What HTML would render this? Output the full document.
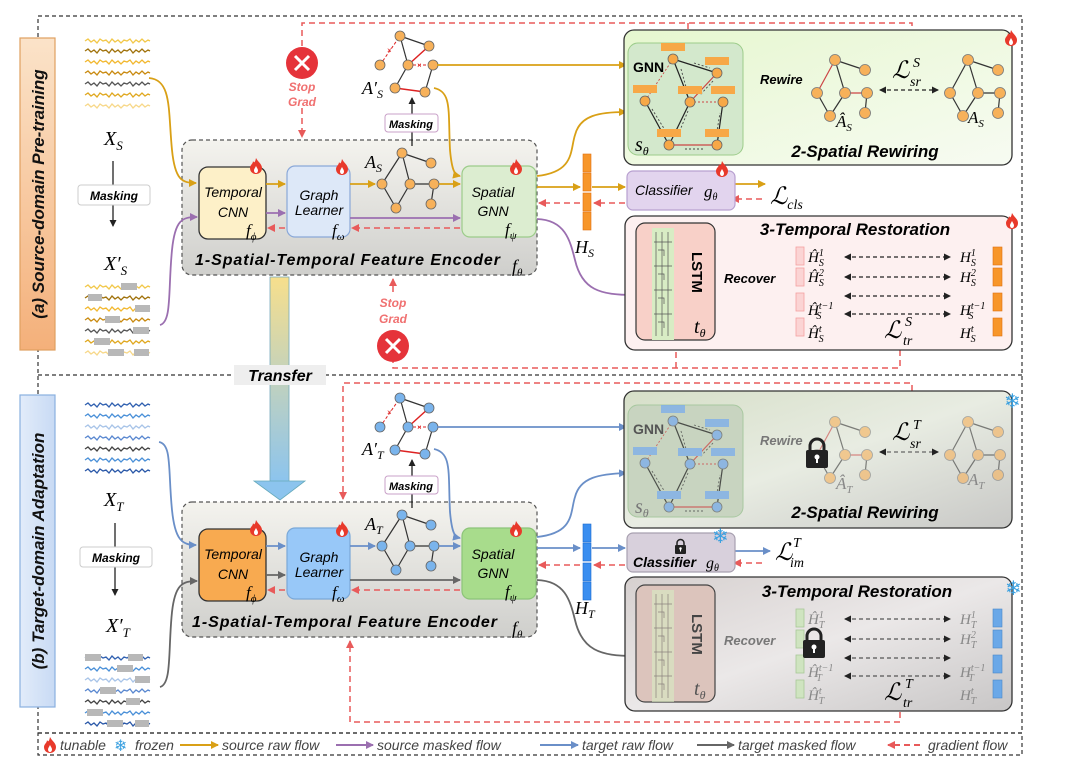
<!DOCTYPE html>
<html><head><meta charset="utf-8"><style>
html,body{margin:0;padding:0;background:#fff;}
svg{display:block;}
.t{font-family:"Liberation Sans",sans-serif;}
.m{font-family:"Liberation Serif",serif;font-style:italic;}
</style></head><body>
<svg width="1080" height="773" viewBox="0 0 1080 773" xmlns="http://www.w3.org/2000/svg">
<defs>
<marker id="aG" markerWidth="8" markerHeight="8" refX="7" refY="4" orient="auto" markerUnits="userSpaceOnUse"><path d="M0,0 L8,4 L0,8 Z" fill="#d9a016"/></marker>
<marker id="aP" markerWidth="8" markerHeight="8" refX="7" refY="4" orient="auto" markerUnits="userSpaceOnUse"><path d="M0,0 L8,4 L0,8 Z" fill="#9b6fb0"/></marker>
<marker id="aB" markerWidth="8" markerHeight="8" refX="7" refY="4" orient="auto" markerUnits="userSpaceOnUse"><path d="M0,0 L8,4 L0,8 Z" fill="#6a8fc8"/></marker>
<marker id="aD" markerWidth="8" markerHeight="8" refX="7" refY="4" orient="auto" markerUnits="userSpaceOnUse"><path d="M0,0 L8,4 L0,8 Z" fill="#666"/></marker>
<marker id="aR" markerWidth="8" markerHeight="8" refX="7" refY="4" orient="auto" markerUnits="userSpaceOnUse"><path d="M0,0 L8,4 L0,8 Z" fill="#e85a5a"/></marker>
<marker id="aK" markerWidth="7" markerHeight="7" refX="6" refY="3.5" orient="auto" markerUnits="userSpaceOnUse"><path d="M0,0 L7,3.5 L0,7 Z" fill="#222"/></marker>
<marker id="aKs" markerWidth="7" markerHeight="7" refX="1" refY="3.5" orient="auto" markerUnits="userSpaceOnUse"><path d="M7,0 L0,3.5 L7,7 Z" fill="#222"/></marker>
<linearGradient id="encG" x1="0" y1="0" x2="0" y2="1"><stop offset="0" stop-color="#f4f3ee"/><stop offset="1" stop-color="#cfcfcc"/></linearGradient>
<linearGradient id="srG" x1="0" y1="0" x2="1" y2="1"><stop offset="0" stop-color="#e6f7cf"/><stop offset="1" stop-color="#f7fbf2"/></linearGradient>
<linearGradient id="srG2" x1="0" y1="0" x2="1" y2="1"><stop offset="0" stop-color="#d6dfc8"/><stop offset="0.5" stop-color="#e8ece2"/><stop offset="1" stop-color="#c8c8c6"/></linearGradient>
<linearGradient id="trG2" x1="0" y1="0" x2="1" y2="1"><stop offset="0" stop-color="#d6d0cf"/><stop offset="0.5" stop-color="#ebe8e8"/><stop offset="1" stop-color="#c8c6c6"/></linearGradient>
<linearGradient id="aLab" x1="0" y1="0" x2="0" y2="1"><stop offset="0" stop-color="#fbe3c9"/><stop offset="1" stop-color="#f4b07a"/></linearGradient>
<linearGradient id="bLab" x1="0" y1="0" x2="1" y2="0"><stop offset="0" stop-color="#e2ecfa"/><stop offset="1" stop-color="#c8daf4"/></linearGradient>
<linearGradient id="trans" x1="0" y1="0" x2="0" y2="1"><stop offset="0" stop-color="#f7df8c"/><stop offset="1" stop-color="#8cc4ee"/></linearGradient>
<symbol id="sig" overflow="visible"><polyline fill="none" stroke-width="1.3" points="0,0 3,-2 6,1 9,-1 12,2 15,-2 18,0 21,-1 24,2 27,-2 30,1 33,-1 36,2 39,-1 42,0 45,-2 48,2 51,-1 54,1 57,-2 60,1 63,-1 65,0"/></symbol>
<symbol id="fire" overflow="visible"><path d="M6,0 C8,4 12,6 12,10 C12,14 9,16 6,16 C3,16 0,14 0,10 C0,7 3,6 3,3 C4,5 5,5 6,0 Z" fill="#e8392b"/><path d="M6,8 C7,10 8,11 8,12.5 C8,14 7,15 6,15 C5,15 4,14 4,12.5 C4,11 5,10 6,8Z" fill="#fff"/></symbol>
<symbol id="lock" overflow="visible"><path d="M4,10 V6 A7,7 0 0 1 18,6 V10" fill="none" stroke="#222" stroke-width="3"/><rect x="0" y="10" width="22" height="18" rx="2" fill="#222"/><circle cx="11" cy="17" r="2.5" fill="#fff"/><rect x="10" y="18" width="2" height="5" fill="#fff"/></symbol>
<symbol id="gA" overflow="visible"><g stroke="#333" stroke-width="1.2"><line x1="24" y1="3" x2="53" y2="13"/><line x1="24" y1="3" x2="4" y2="34"/><line x1="24" y1="3" x2="32" y2="34"/><line x1="4" y1="34" x2="18" y2="58"/><line x1="32" y1="34" x2="18" y2="58"/><line x1="32" y1="34" x2="56" y2="34"/><line x1="56" y1="34" x2="53" y2="54"/></g><g stroke="#666" stroke-width="0.8"><circle cx="24" cy="3" r="5"/><circle cx="53" cy="13" r="5"/><circle cx="4" cy="34" r="5"/><circle cx="32" cy="34" r="5"/><circle cx="56" cy="34" r="5"/><circle cx="18" cy="58" r="5"/><circle cx="53" cy="54" r="5"/></g></symbol>
<symbol id="gM" overflow="visible"><g stroke="#333" stroke-width="1.2"><line x1="22" y1="3" x2="51" y2="13"/><line x1="22" y1="3" x2="30" y2="32"/><line x1="30" y1="32" x2="17" y2="55"/><line x1="55" y1="32" x2="47" y2="59"/></g><g stroke="#d22" stroke-width="1.5"><line x1="51" y1="13" x2="30" y2="32"/><line x1="17" y1="55" x2="47" y2="59"/></g><g stroke="#d22" stroke-width="1" stroke-dasharray="3,2"><line x1="2" y1="32" x2="22" y2="3"/><line x1="30" y1="32" x2="55" y2="32"/></g><text x="9" y="20" font-size="8" fill="#d22" class="t">×</text><text x="39" y="35" font-size="8" fill="#d22" class="t">×</text><g stroke="#666" stroke-width="0.8"><circle cx="22" cy="3" r="5"/><circle cx="51" cy="13" r="5"/><circle cx="2" cy="32" r="5"/><circle cx="30" cy="32" r="5"/><circle cx="55" cy="32" r="5"/><circle cx="17" cy="55" r="5"/><circle cx="47" cy="59" r="5"/></g></symbol>
<symbol id="gR" overflow="visible"><g stroke="#333" stroke-width="1.2"><line x1="20" y1="2" x2="50" y2="12"/><line x1="20" y1="2" x2="30" y2="35"/><line x1="2" y1="35" x2="15" y2="58"/><line x1="30" y1="35" x2="15" y2="58"/><line x1="52" y1="35" x2="50" y2="55"/></g><g stroke="#c44" stroke-width="1.2"><line x1="20" y1="2" x2="2" y2="35"/><line x1="30" y1="35" x2="52" y2="35"/></g><g stroke="#777" stroke-width="0.8" fill="#f7b15a"><circle cx="20" cy="2" r="5.5"/><circle cx="50" cy="12" r="5.5"/><circle cx="2" cy="35" r="5.5"/><circle cx="30" cy="35" r="5.5"/><circle cx="52" cy="35" r="5.5"/><circle cx="15" cy="58" r="5.5"/><circle cx="50" cy="55" r="5.5"/></g></symbol>
<symbol id="gT" overflow="visible"><g stroke="#333" stroke-width="1.2"><line x1="20" y1="2" x2="50" y2="12"/><line x1="20" y1="2" x2="30" y2="35"/><line x1="2" y1="35" x2="15" y2="58"/><line x1="30" y1="35" x2="15" y2="58"/><line x1="52" y1="35" x2="50" y2="55"/><line x1="20" y1="2" x2="2" y2="35"/><line x1="30" y1="35" x2="52" y2="35"/></g><g stroke="#777" stroke-width="0.8" fill="#f7b15a"><circle cx="20" cy="2" r="5.5"/><circle cx="50" cy="12" r="5.5"/><circle cx="2" cy="35" r="5.5"/><circle cx="30" cy="35" r="5.5"/><circle cx="52" cy="35" r="5.5"/><circle cx="15" cy="58" r="5.5"/><circle cx="50" cy="55" r="5.5"/></g></symbol>
<symbol id="gnn" overflow="visible">
<g stroke="#222" stroke-width="1.2"><line x1="45" y1="16" x2="89" y2="30"/><line x1="45" y1="16" x2="62" y2="59"/><line x1="17" y1="58" x2="41" y2="102"/><line x1="62" y1="59" x2="41" y2="102"/><line x1="95" y1="59" x2="89" y2="102"/></g>
<g stroke="#c44" stroke-width="1.2"><line x1="89" y1="30" x2="62" y2="59"/><line x1="41" y1="102" x2="89" y2="102"/></g>
<g stroke="#c44" stroke-width="0.9" stroke-dasharray="2,2"><line x1="45" y1="16" x2="17" y2="58"/><line x1="62" y1="59" x2="95" y2="59"/></g>
<g stroke="#444" stroke-width="0.9" stroke-dasharray="2,2" fill="none"><line x1="53" y1="26" x2="58" y2="44"/><line x1="85" y1="38" x2="72" y2="52"/><line x1="24" y1="66" x2="40" y2="92"/><line x1="60" y1="68" x2="50" y2="92"/><line x1="88" y1="94" x2="92" y2="70"/><line x1="75" y1="106" x2="55" y2="106"/><line x1="66" y1="20" x2="82" y2="25"/></g>
<g fill="currentColor"><rect x="33" y="0" width="24" height="8"/><rect x="77" y="14" width="24" height="8"/><rect x="5" y="42" width="24" height="8"/><rect x="50" y="43" width="24" height="8"/><rect x="83" y="43" width="24" height="8"/><rect x="29" y="86" width="24" height="8"/><rect x="77" y="86" width="24" height="8"/></g>
<g fill="currentColor" stroke="#666" stroke-width="0.8"><circle cx="45" cy="16" r="5"/><circle cx="89" cy="30" r="5"/><circle cx="17" cy="58" r="5"/><circle cx="62" cy="59" r="5"/><circle cx="95" cy="59" r="5"/><circle cx="41" cy="102" r="5"/><circle cx="89" cy="102" r="5"/></g>
</symbol>
<symbol id="lstm" overflow="visible"><rect x="0" y="0" width="22" height="112" fill="#d8ecc4"/><g stroke="#555" stroke-width="0.7" fill="none"><path d="M4,4 V108 M10,4 V108 M16,4 V108 M2,14 H20 M2,38 H20 M2,62 H20 M2,86 H20 M6,22 h6 v6 M6,46 h6 v6 M6,70 h6 v6 M6,94 h6 v6"/></g></symbol>
</defs>

<g fill="none" stroke="#333" stroke-width="1.2" stroke-dasharray="4,3">
<rect x="38" y="16" width="984" height="717"/>
<line x1="38" y1="375" x2="1022" y2="375"/>
<rect x="38" y="733" width="984" height="22"/>
</g>

<rect x="20" y="38" width="35" height="312" fill="url(#aLab)" stroke="#e0a060" stroke-width="1.2"/>
<text class="t" transform="translate(44,194) rotate(-90)" text-anchor="middle" font-size="17" font-weight="bold" font-style="italic" fill="#111">(a) Source-domain Pre-training</text>
<rect x="20" y="395" width="35" height="312" fill="url(#bLab)" stroke="#8ab0e0" stroke-width="1.2"/>
<text class="t" transform="translate(44,551) rotate(-90)" text-anchor="middle" font-size="17" font-weight="bold" font-style="italic" fill="#111">(b) Target-domain Adaptation</text>

<!-- UPPER -->
<g>
<use href="#sig" x="85" y="41" stroke="#f2c84a"/>
<use href="#sig" x="85" y="51" stroke="#a0720c"/>
<use href="#sig" x="85" y="62" stroke="#f2b830"/>
<use href="#sig" x="85" y="73" stroke="#c98a10"/>
<use href="#sig" x="85" y="84" stroke="#555"/>
<use href="#sig" x="85" y="95" stroke="#e0a820"/>
<use href="#sig" x="85" y="106" stroke="#f7d88a"/>
<text class="m" x="104" y="145" font-size="20">X<tspan font-size="13" dy="5">S</tspan></text>
<line x1="113" y1="161" x2="113" y2="226" stroke="#111" stroke-width="1.2" marker-end="url(#aK)"/>
<rect x="78" y="185" width="72" height="20" rx="3" fill="#fff" stroke="#ccc"/>
<text class="t" x="114" y="200" text-anchor="middle" font-size="12" font-weight="bold" font-style="italic">Masking</text>
<text class="m" x="104" y="270" font-size="20">X′<tspan font-size="13" dy="5">S</tspan></text>
<use href="#sig" x="85" y="287" stroke="#f2c84a"/>
<use href="#sig" x="85" y="298" stroke="#a0720c"/>
<use href="#sig" x="85" y="309" stroke="#f2b830"/>
<use href="#sig" x="85" y="320" stroke="#c98a10"/>
<use href="#sig" x="85" y="331" stroke="#555"/>
<use href="#sig" x="85" y="342" stroke="#e0a820"/>
<use href="#sig" x="85" y="353" stroke="#f7d88a"/>
<g fill="#b8b8b8"><rect x="121" y="283" width="16" height="7"/><rect x="88" y="294" width="14" height="7"/><rect x="135" y="305" width="15" height="7"/><rect x="105" y="316" width="15" height="7"/><rect x="133" y="327" width="16" height="7"/><rect x="94" y="338" width="16" height="7"/><rect x="108" y="349" width="16" height="7"/><rect x="134" y="349" width="15" height="7"/></g>

<rect x="182" y="140" width="355" height="135" rx="10" fill="url(#encG)" stroke="#555" stroke-width="1.2" stroke-dasharray="4,3"/>
<rect x="199" y="167" width="67" height="72" rx="9" fill="#fdf0c8" stroke="#333" stroke-width="1.3"/>
<text class="t" x="233" y="197" text-anchor="middle" font-size="14" font-style="italic">Temporal</text>
<text class="t" x="233" y="217" text-anchor="middle" font-size="14" font-style="italic">CNN</text>
<text class="m" x="246" y="236" font-size="17">f<tspan font-size="11" dy="4">ϕ</tspan></text>
<use href="#fire" x="250" y="158"/>
<rect x="287" y="166" width="63" height="71" rx="8" fill="#dde8f8" stroke="#8aa8d8" stroke-width="1.2"/>
<text class="t" x="319" y="200" text-anchor="middle" font-size="14" font-style="italic">Graph</text>
<text class="t" x="319" y="215" text-anchor="middle" font-size="14" font-style="italic">Learner</text>
<text class="m" x="332" y="236" font-size="17">f<tspan font-size="11" dy="4">ω</tspan></text>
<use href="#fire" x="336" y="159"/>
<rect x="462" y="166" width="74" height="71" rx="8" fill="#dcedd0" stroke="#9ccc8a" stroke-width="1.2"/>
<text class="t" x="493" y="197" text-anchor="middle" font-size="14" font-style="italic">Spatial</text>
<text class="t" x="493" y="216" text-anchor="middle" font-size="14" font-style="italic">GNN</text>
<text class="m" x="505" y="235" font-size="17">f<tspan font-size="11" dy="4">ψ</tspan></text>
<use href="#fire" x="510" y="159"/>
<text class="t" x="195" y="265" font-size="16" font-weight="bold" font-style="italic" textLength="305">1-Spatial-Temporal Feature Encoder</text>
<text class="m" x="512" y="272" font-size="18">f<tspan font-size="11" dy="4">θ</tspan></text>
<text class="m" x="365" y="168" font-size="18">A<tspan font-size="12" dy="4">S</tspan></text>
<use href="#gA" x="378" y="150" fill="#f7b15a"/>
<line x1="412" y1="146" x2="412" y2="98" stroke="#111" stroke-width="1.2" marker-end="url(#aK)"/>
<rect x="385" y="114" width="53" height="18" rx="3" fill="#fff" stroke="#c9a0c8"/>
<text class="t" x="411" y="128" text-anchor="middle" font-size="11" font-weight="bold" font-style="italic">Masking</text>
<text class="m" x="362" y="94" font-size="18">A′<tspan font-size="12" dy="4">S</tspan></text>
<use href="#gM" x="378" y="33" fill="#f7b15a"/>
<g fill="none" stroke-width="1.8">
<path d="M149,78 C172,80 168,110 172,150 C175,180 182,183 196,183" stroke="#d9a016" marker-end="url(#aG)"/>
<path d="M160,325 C172,322 168,290 172,250 C175,220 182,217 197,217" stroke="#9b6fb0" marker-end="url(#aP)"/>
<line x1="266" y1="184" x2="285" y2="184" stroke="#d9a016" marker-end="url(#aG)"/>
<line x1="266" y1="213" x2="285" y2="213" stroke="#9b6fb0" marker-end="url(#aP)"/>
<line x1="350" y1="184" x2="375" y2="184" stroke="#d9a016" marker-end="url(#aG)"/>
<line x1="439" y1="184" x2="460" y2="184" stroke="#d9a016" marker-end="url(#aG)"/>
<line x1="350" y1="218" x2="460" y2="218" stroke="#9b6fb0" marker-end="url(#aP)"/>
<path d="M434,88 C452,92 448,110 450,150 C452,172 455,175 460,176" stroke="#d9a016" marker-end="url(#aG)"/>
<line x1="437" y1="65" x2="626" y2="65" stroke="#d9a016" marker-end="url(#aG)"/>
<path d="M537,176 C575,172 570,150 575,135 C580,115 600,112 626,112" stroke="#d9a016" marker-end="url(#aG)"/>
<line x1="537" y1="187" x2="580" y2="187" stroke="#d9a016" marker-end="url(#aG)"/>
<line x1="592" y1="187" x2="625" y2="187" stroke="#d9a016" marker-end="url(#aG)"/>
<line x1="730" y1="184" x2="765" y2="184" stroke="#d9a016" marker-end="url(#aG)"/>
<path d="M537,219 C565,220 570,240 575,260 C582,290 600,295 634,295" stroke="#9b6fb0" marker-end="url(#aP)"/>
<line x1="745" y1="93" x2="806" y2="93" stroke="#d9a016" marker-end="url(#aG)"/>
<line x1="716" y1="290" x2="790" y2="290" stroke="#9b6fb0" marker-end="url(#aP)"/>
</g>
<g fill="none" stroke="#e85a5a" stroke-width="1.5" stroke-dasharray="6,4">
<line x1="285" y1="228" x2="268" y2="228" marker-end="url(#aR)"/>
<line x1="460" y1="228" x2="352" y2="228" marker-end="url(#aR)"/>
<line x1="625" y1="203" x2="594" y2="203" marker-end="url(#aR)"/>
<line x1="580" y1="203" x2="539" y2="203" marker-end="url(#aR)"/>
<line x1="762" y1="199" x2="732" y2="199" marker-end="url(#aR)"/>
<polyline points="302,46 302,23 912,23 912,30"/>
<line x1="302" y1="108" x2="302" y2="137" marker-end="url(#aR)"/>
<line x1="688" y1="23" x2="688" y2="44" marker-end="url(#aR)"/>
<polyline points="900,350 900,368 393,368 393,362"/>
<line x1="393" y1="292" x2="393" y2="279" marker-end="url(#aR)"/>
<line x1="676" y1="368" x2="676" y2="342" marker-end="url(#aR)"/>
</g>
<circle cx="302" cy="63" r="16" fill="#e5333a"/>
<path d="M295,56 L309,70 M309,56 L295,70" stroke="#fff" stroke-width="3"/>
<text class="t" x="302" y="91" text-anchor="middle" font-size="12" font-weight="bold" font-style="italic" fill="#f07070">Stop</text>
<text class="t" x="302" y="106" text-anchor="middle" font-size="12" font-weight="bold" font-style="italic" fill="#f07070">Grad</text>
<circle cx="393" cy="346" r="16" fill="#e5333a"/>
<path d="M386,339 L400,353 M400,339 L386,353" stroke="#fff" stroke-width="3"/>
<text class="t" x="393" y="307" text-anchor="middle" font-size="12" font-weight="bold" font-style="italic" fill="#f07070">Stop</text>
<text class="t" x="393" y="323" text-anchor="middle" font-size="12" font-weight="bold" font-style="italic" fill="#f07070">Grad</text>
<g fill="#f7962a" stroke="#e07010" stroke-width="0.6"><rect x="583" y="154" width="8" height="18"/><rect x="583" y="173" width="8" height="18"/><rect x="583" y="193" width="8" height="18"/><rect x="583" y="212" width="8" height="18"/></g>
<text class="m" x="575" y="253" font-size="18">H<tspan font-size="12" dy="4">S</tspan></text>
<rect x="624" y="30" width="388" height="135" rx="10" fill="url(#srG)" stroke="#333" stroke-width="1.3"/>
<use href="#fire" x="1005" y="30"/>
<rect x="628" y="43" width="115" height="112" rx="10" fill="#d3e8cc" stroke="#9ccc8a" stroke-width="1"/>
<use href="#gnn" x="628" y="43" color="#f7a847"/>
<text class="t" x="633" y="72" font-size="14" font-weight="bold">GNN</text>
<text class="m" x="635" y="151" font-size="20">s<tspan font-size="12" dy="4">θ</tspan></text>
<text class="t" x="760" y="84" font-size="13" font-weight="bold" font-style="italic">Rewire</text>
<use href="#gR" x="815" y="58"/>
<text class="m" x="836" y="127" font-size="17">Â<tspan font-size="11" dy="4">S</tspan></text>
<line x1="880" y1="90" x2="938" y2="90" stroke="#222" stroke-width="1.3" stroke-dasharray="4,3" marker-start="url(#aKs)" marker-end="url(#aK)"/>
<text class="m" x="892" y="78" font-size="24">ℒ</text><text class="m" x="913" y="67" font-size="14">S</text><text class="m" x="910" y="86" font-size="14">sr</text>
<use href="#gT" x="948" y="58"/>
<text class="m" x="968" y="123" font-size="17">A<tspan font-size="11" dy="4">S</tspan></text>
<text class="t" x="865" y="157" text-anchor="middle" font-size="17" font-weight="bold" font-style="italic">2-Spatial Rewiring</text>
<rect x="627" y="171" width="108" height="39" rx="6" fill="#e2d4ee" stroke="#b8a0d0" stroke-width="1.2"/>
<text class="t" x="635" y="195" font-size="14" font-style="italic">Classifier</text>
<text class="m" x="704" y="197" font-size="17">g<tspan font-size="10" dy="3">θ</tspan></text>
<use href="#fire" x="716" y="161"/>
<text class="m" x="770" y="204" font-size="24">ℒ<tspan font-size="14" dy="5">cls</tspan></text>
<rect x="625" y="216" width="387" height="134" rx="10" fill="#fdf0f0" stroke="#333" stroke-width="1.3"/>
<use href="#fire" x="1006" y="213"/>
<rect x="636" y="223" width="79" height="117" rx="9" fill="#f8d0c8" stroke="#333" stroke-width="1.2"/>
<use href="#lstm" x="652" y="228"/>
<text class="t" transform="translate(692,252) rotate(90)" font-size="15" font-weight="bold">LSTM</text>
<text class="m" x="694" y="333" font-size="20">t<tspan font-size="12" dy="4">θ</tspan></text>
<text class="t" x="724" y="283" font-size="13" font-weight="bold" font-style="italic">Recover</text>
<g fill="#fbd4d4" stroke="#f4a0a0" stroke-width="0.8"><rect x="796" y="247" width="8" height="18"/><rect x="796" y="268" width="8" height="18"/><rect x="796" y="293" width="8" height="18"/><rect x="796" y="318" width="8" height="18"/></g>
<g fill="#f7962a" stroke="#e07010" stroke-width="0.6"><rect x="993" y="247" width="9" height="18"/><rect x="993" y="268" width="9" height="18"/><rect x="993" y="293" width="9" height="18"/><rect x="993" y="318" width="9" height="18"/></g>
<g class="m" font-size="15"><text x="808" y="262">Ĥ<tspan font-size="10" dy="-6">1</tspan><tspan font-size="10" dx="-5" dy="10">S</tspan></text>
<text x="808" y="282">Ĥ<tspan font-size="10" dy="-6">2</tspan><tspan font-size="10" dx="-5" dy="10">S</tspan></text>
<text x="808" y="315">Ĥ<tspan font-size="10" dy="-6">t−1</tspan><tspan font-size="10" dx="-17" dy="10">S</tspan></text>
<text x="808" y="338">Ĥ<tspan font-size="10" dy="-6">t</tspan><tspan font-size="10" dx="-3" dy="10">S</tspan></text>
<text x="960" y="262">H<tspan font-size="10" dy="-6">1</tspan><tspan font-size="10" dx="-5" dy="10">S</tspan></text>
<text x="960" y="282">H<tspan font-size="10" dy="-6">2</tspan><tspan font-size="10" dx="-5" dy="10">S</tspan></text>
<text x="960" y="315">H<tspan font-size="10" dy="-6">t−1</tspan><tspan font-size="10" dx="-17" dy="10">S</tspan></text>
<text x="960" y="338">H<tspan font-size="10" dy="-6">t</tspan><tspan font-size="10" dx="-3" dy="10">S</tspan></text></g>
<g stroke="#222" stroke-width="1.3" stroke-dasharray="4,3"><line x1="845" y1="257" x2="950" y2="257" marker-start="url(#aKs)" marker-end="url(#aK)"/><line x1="845" y1="277" x2="950" y2="277" marker-start="url(#aKs)" marker-end="url(#aK)"/><line x1="845" y1="296" x2="950" y2="296" marker-start="url(#aKs)" marker-end="url(#aK)"/><line x1="845" y1="314" x2="950" y2="314" marker-start="url(#aKs)" marker-end="url(#aK)"/></g>
<text class="m" x="884" y="338" font-size="24">ℒ</text><text class="m" x="905" y="326" font-size="14">S</text><text class="m" x="903" y="345" font-size="14">tr</text>
</g>

<rect x="270" y="277" width="19" height="205" fill="url(#trans)" stroke="#7ab" stroke-width="0.8"/>
<path d="M254,481 L305,481 L280,500 Z" fill="#8cc4ee" stroke="#6ab" stroke-width="0.8"/>
<rect x="234" y="365" width="92" height="20" fill="#eee"/>
<text class="t" x="280" y="381" text-anchor="middle" font-size="16" font-weight="bold" font-style="italic">Transfer</text>

<!-- LOWER -->
<g>
<use href="#sig" x="85" y="405" stroke="#3060b0"/>
<use href="#sig" x="85" y="416" stroke="#4a90d8"/>
<use href="#sig" x="85" y="427" stroke="#a8c4e8"/>
<use href="#sig" x="85" y="438" stroke="#5a88d0"/>
<use href="#sig" x="85" y="449" stroke="#444"/>
<use href="#sig" x="85" y="460" stroke="#4a90d8"/>
<use href="#sig" x="85" y="471" stroke="#2a58a8"/>
<text class="m" x="104" y="506" font-size="20">X<tspan font-size="13" dy="5">T</tspan></text>
<line x1="115" y1="523" x2="115" y2="595" stroke="#111" stroke-width="1.2" marker-end="url(#aK)"/>
<rect x="80" y="547" width="72" height="20" rx="3" fill="#fff" stroke="#ccc"/>
<text class="t" x="116" y="562" text-anchor="middle" font-size="12" font-weight="bold" font-style="italic">Masking</text>
<text class="m" x="106" y="632" font-size="20">X′<tspan font-size="13" dy="5">T</tspan></text>
<use href="#sig" x="85" y="658" stroke="#3060b0"/>
<use href="#sig" x="85" y="669" stroke="#4a90d8"/>
<use href="#sig" x="85" y="680" stroke="#a8c4e8"/>
<use href="#sig" x="85" y="691" stroke="#5a88d0"/>
<use href="#sig" x="85" y="702" stroke="#444"/>
<use href="#sig" x="85" y="713" stroke="#4a90d8"/>
<use href="#sig" x="85" y="724" stroke="#2a58a8"/>
<g fill="#b8b8b8"><rect x="85" y="654" width="16" height="7"/><rect x="128" y="654" width="15" height="7"/><rect x="117" y="665" width="16" height="7"/><rect x="135" y="676" width="15" height="7"/><rect x="100" y="687" width="16" height="7"/><rect x="126" y="698" width="14" height="7"/><rect x="87" y="709" width="16" height="7"/><rect x="107" y="720" width="16" height="7"/><rect x="135" y="720" width="14" height="7"/></g>

<rect x="182" y="502" width="355" height="135" rx="10" fill="url(#encG)" stroke="#555" stroke-width="1.2" stroke-dasharray="4,3"/>
<rect x="199" y="529" width="67" height="72" rx="9" fill="#f8aa50" stroke="#333" stroke-width="1.3"/>
<text class="t" x="233" y="559" text-anchor="middle" font-size="14" font-style="italic">Temporal</text>
<text class="t" x="233" y="579" text-anchor="middle" font-size="14" font-style="italic">CNN</text>
<text class="m" x="246" y="598" font-size="17">f<tspan font-size="11" dy="4">ϕ</tspan></text>
<use href="#fire" x="250" y="520"/>
<rect x="287" y="528" width="63" height="71" rx="8" fill="#98c8f8" stroke="#7aa8d8" stroke-width="1.2"/>
<text class="t" x="319" y="562" text-anchor="middle" font-size="14" font-style="italic">Graph</text>
<text class="t" x="319" y="577" text-anchor="middle" font-size="14" font-style="italic">Learner</text>
<text class="m" x="332" y="598" font-size="17">f<tspan font-size="11" dy="4">ω</tspan></text>
<use href="#fire" x="336" y="521"/>
<rect x="462" y="528" width="74" height="71" rx="8" fill="#a8dc8c" stroke="#8cc478" stroke-width="1.2"/>
<text class="t" x="493" y="559" text-anchor="middle" font-size="14" font-style="italic">Spatial</text>
<text class="t" x="493" y="578" text-anchor="middle" font-size="14" font-style="italic">GNN</text>
<text class="m" x="505" y="597" font-size="17">f<tspan font-size="11" dy="4">ψ</tspan></text>
<use href="#fire" x="510" y="521"/>
<text class="t" x="192" y="627" font-size="16" font-weight="bold" font-style="italic" textLength="305">1-Spatial-Temporal Feature Encoder</text>
<text class="m" x="512" y="634" font-size="18">f<tspan font-size="11" dy="4">θ</tspan></text>
<text class="m" x="365" y="530" font-size="18">A<tspan font-size="12" dy="4">T</tspan></text>
<use href="#gA" x="378" y="512" fill="#7ab4ec"/>
<line x1="412" y1="508" x2="412" y2="460" stroke="#111" stroke-width="1.2" marker-end="url(#aK)"/>
<rect x="385" y="476" width="53" height="18" rx="3" fill="#fff" stroke="#c9a0c8"/>
<text class="t" x="411" y="490" text-anchor="middle" font-size="11" font-weight="bold" font-style="italic">Masking</text>
<text class="m" x="362" y="455" font-size="18">A′<tspan font-size="12" dy="4">T</tspan></text>
<use href="#gM" x="378" y="395" fill="#7ab4ec"/>
<g fill="none" stroke-width="1.8">
<path d="M159,442 C172,444 168,470 172,510 C175,540 182,545 196,545" stroke="#6a8fc8" marker-end="url(#aB)"/>
<path d="M160,687 C172,684 168,650 172,612 C175,585 182,581 197,581" stroke="#666" marker-end="url(#aD)"/>
<line x1="266" y1="546" x2="285" y2="546" stroke="#6a8fc8" marker-end="url(#aB)"/>
<line x1="266" y1="575" x2="285" y2="575" stroke="#666" marker-end="url(#aD)"/>
<line x1="350" y1="546" x2="375" y2="546" stroke="#6a8fc8" marker-end="url(#aB)"/>
<line x1="439" y1="546" x2="460" y2="546" stroke="#6a8fc8" marker-end="url(#aB)"/>
<line x1="350" y1="580" x2="460" y2="580" stroke="#666" marker-end="url(#aD)"/>
<path d="M434,449 C452,453 448,472 450,512 C452,534 455,537 460,538" stroke="#6a8fc8" marker-end="url(#aB)"/>
<line x1="437" y1="427" x2="626" y2="427" stroke="#6a8fc8" marker-end="url(#aB)"/>
<path d="M537,537 C575,533 570,512 575,497 C580,477 600,474 626,473" stroke="#6a8fc8" marker-end="url(#aB)"/>
<line x1="537" y1="548" x2="580" y2="548" stroke="#6a8fc8" marker-end="url(#aB)"/>
<line x1="592" y1="548" x2="625" y2="548" stroke="#6a8fc8" marker-end="url(#aB)"/>
<line x1="732" y1="551" x2="770" y2="551" stroke="#6a8fc8" marker-end="url(#aB)"/>
<path d="M537,580 C565,581 570,600 575,620 C582,650 600,656 634,656" stroke="#666" marker-end="url(#aD)"/>
<line x1="745" y1="455" x2="806" y2="455" stroke="#9ab4d8" marker-end="url(#aB)"/>
<line x1="716" y1="652" x2="790" y2="652" stroke="#999" marker-end="url(#aD)"/>
</g>
<g fill="none" stroke="#e85a5a" stroke-width="1.5" stroke-dasharray="6,4">
<line x1="285" y1="590" x2="268" y2="590" marker-end="url(#aR)"/>
<line x1="460" y1="590" x2="352" y2="590" marker-end="url(#aR)"/>
<line x1="625" y1="565" x2="594" y2="565" marker-end="url(#aR)"/>
<line x1="580" y1="565" x2="539" y2="565" marker-end="url(#aR)"/>
<line x1="762" y1="563" x2="734" y2="563" marker-end="url(#aR)"/>
<polyline points="912,391 912,383 343,383 343,499" marker-end="url(#aR)"/>
<polyline points="900,712 900,722 350,722 350,641" marker-end="url(#aR)"/>
</g>
<g fill="#3a8ef0" stroke="#1a6ad0" stroke-width="0.6"><rect x="583" y="524" width="8" height="18"/><rect x="583" y="543" width="8" height="18"/><rect x="583" y="563" width="8" height="18"/><rect x="583" y="582" width="8" height="18"/></g>
<text class="m" x="575" y="614" font-size="18">H<tspan font-size="12" dy="4">T</tspan></text>
<rect x="624" y="391" width="388" height="137" rx="10" fill="url(#srG2)" stroke="#333" stroke-width="1.3"/>
<text x="1004" y="408" font-size="20" fill="#3aa0e0" font-family="DejaVu Sans,sans-serif">❄</text>
<rect x="628" y="405" width="115" height="112" rx="10" fill="#c8d4c0" stroke="#a8c8a0" stroke-width="1"/>
<g opacity="0.75"><use href="#gnn" x="628" y="405" color="#7aacec"/></g>
<text class="t" x="633" y="434" font-size="14" font-weight="bold" fill="#555">GNN</text>
<text class="m" x="635" y="513" font-size="20" fill="#777">s<tspan font-size="12" dy="4">θ</tspan></text>
<text class="t" x="760" y="445" font-size="13" font-weight="bold" font-style="italic" fill="#777">Rewire</text>
<g opacity="0.6"><use href="#gR" x="815" y="420"/></g>
<use href="#lock" x="806" y="440"/>
<text class="m" x="836" y="489" font-size="17" fill="#888">Â<tspan font-size="11" dy="4">T</tspan></text>
<line x1="880" y1="452" x2="938" y2="452" stroke="#666" stroke-width="1.3" stroke-dasharray="4,3" marker-start="url(#aKs)" marker-end="url(#aK)"/>
<text class="m" x="892" y="440" font-size="24">ℒ</text><text class="m" x="913" y="429" font-size="14">T</text><text class="m" x="910" y="448" font-size="14">sr</text>
<g opacity="0.6"><use href="#gT" x="948" y="420"/></g>
<text class="m" x="968" y="485" font-size="17" fill="#888">A<tspan font-size="11" dy="4">T</tspan></text>
<text class="t" x="865" y="518" text-anchor="middle" font-size="17" font-weight="bold" font-style="italic">2-Spatial Rewiring</text>
<rect x="627" y="533" width="108" height="39" rx="6" fill="#d8d0dc" stroke="#a8a0b0" stroke-width="1.2"/>
<g transform="translate(675,540) scale(0.5)"><use href="#lock"/></g>
<text class="t" x="633" y="567" font-size="14" font-weight="bold" font-style="italic">Classifier</text>
<text class="m" x="706" y="568" font-size="16">g<tspan font-size="10" dy="3">θ</tspan></text>
<text x="712" y="543" font-size="20" fill="#3aa0e0" font-family="DejaVu Sans,sans-serif">❄</text>
<text class="m" x="775" y="560" font-size="24">ℒ</text><text class="m" x="793" y="547" font-size="14">T</text><text class="m" x="790" y="567" font-size="14">im</text>
<rect x="625" y="577" width="387" height="134" rx="10" fill="url(#trG2)" stroke="#333" stroke-width="1.3"/>
<text x="1005" y="595" font-size="20" fill="#3aa0e0" font-family="DejaVu Sans,sans-serif">❄</text>
<rect x="636" y="585" width="79" height="117" rx="9" fill="#dcc4bc" stroke="#444" stroke-width="1.2"/>
<g opacity="0.6"><use href="#lstm" x="652" y="590"/></g>
<text class="t" x="857" y="597" text-anchor="middle" font-size="17" font-weight="bold" font-style="italic">3-Temporal Restoration</text>
<text class="t" transform="translate(692,614) rotate(90)" font-size="15" font-weight="bold" fill="#444">LSTM</text>
<text class="m" x="694" y="695" font-size="20" fill="#555">t<tspan font-size="12" dy="4">θ</tspan></text>
<text class="t" x="724" y="645" font-size="13" font-weight="bold" font-style="italic" fill="#777">Recover</text>
<g fill="#cfe4c0" stroke="#a8c898" stroke-width="0.8"><rect x="796" y="609" width="8" height="18"/><rect x="796" y="630" width="8" height="18"/><rect x="796" y="655" width="8" height="18"/><rect x="796" y="680" width="8" height="18"/></g>
<g fill="#6aa8e8" stroke="#4a88c8" stroke-width="0.6"><rect x="993" y="609" width="9" height="18"/><rect x="993" y="630" width="9" height="18"/><rect x="993" y="655" width="9" height="18"/><rect x="993" y="680" width="9" height="18"/></g>
<use href="#lock" x="803" y="630"/>
<g class="m" font-size="15" fill="#888"><text x="808" y="624">Ĥ<tspan font-size="10" dy="-6">1</tspan><tspan font-size="10" dx="-5" dy="10">T</tspan></text>
<text x="808" y="677">Ĥ<tspan font-size="10" dy="-6">t−1</tspan><tspan font-size="10" dx="-17" dy="10">T</tspan></text>
<text x="808" y="700">Ĥ<tspan font-size="10" dy="-6">t</tspan><tspan font-size="10" dx="-3" dy="10">T</tspan></text>
<text x="960" y="624">H<tspan font-size="10" dy="-6">1</tspan><tspan font-size="10" dx="-5" dy="10">T</tspan></text>
<text x="960" y="644">H<tspan font-size="10" dy="-6">2</tspan><tspan font-size="10" dx="-5" dy="10">T</tspan></text>
<text x="960" y="677">H<tspan font-size="10" dy="-6">t−1</tspan><tspan font-size="10" dx="-17" dy="10">T</tspan></text>
<text x="960" y="700">H<tspan font-size="10" dy="-6">t</tspan><tspan font-size="10" dx="-3" dy="10">T</tspan></text></g>
<g stroke="#555" stroke-width="1.3" stroke-dasharray="4,3"><line x1="845" y1="619" x2="950" y2="619" marker-start="url(#aKs)" marker-end="url(#aK)"/><line x1="845" y1="639" x2="950" y2="639" marker-start="url(#aKs)" marker-end="url(#aK)"/><line x1="845" y1="658" x2="950" y2="658" marker-start="url(#aKs)" marker-end="url(#aK)"/><line x1="845" y1="676" x2="950" y2="676" marker-start="url(#aKs)" marker-end="url(#aK)"/></g>
<text class="m" x="884" y="700" font-size="24">ℒ</text><text class="m" x="905" y="688" font-size="14">T</text><text class="m" x="903" y="707" font-size="14">tr</text>
</g>
<text class="t" x="855" y="235" text-anchor="middle" font-size="17" font-weight="bold" font-style="italic">3-Temporal Restoration</text>

<use href="#fire" x="44" y="737"/>
<g class="t" font-size="14" font-style="italic" fill="#444">
<text x="60" y="750">tunable</text>
<text x="114" y="751" font-size="16" fill="#3aa0e0" font-style="normal" font-family="DejaVu Sans,sans-serif">❄</text>
<text x="135" y="750">frozen</text>
<text x="222" y="750">source raw flow</text>
<text x="377" y="750">source masked flow</text>
<text x="582" y="750">target raw flow</text>
<text x="738" y="750">target masked flow</text>
<text x="928" y="750">gradient flow</text>
</g>
<g stroke-width="2" fill="none">
<line x1="180" y1="745" x2="218" y2="745" stroke="#d9a016" marker-end="url(#aG)"/>
<line x1="336" y1="745" x2="373" y2="745" stroke="#9b6fb0" marker-end="url(#aP)"/>
<line x1="540" y1="745" x2="578" y2="745" stroke="#6a8fc8" marker-end="url(#aB)"/>
<line x1="697" y1="745" x2="734" y2="745" stroke="#666" marker-end="url(#aD)"/>
<line x1="920" y1="745" x2="888" y2="745" stroke="#e85a5a" stroke-dasharray="6,4" marker-end="url(#aR)"/>
</g>
</svg>
</body></html>
